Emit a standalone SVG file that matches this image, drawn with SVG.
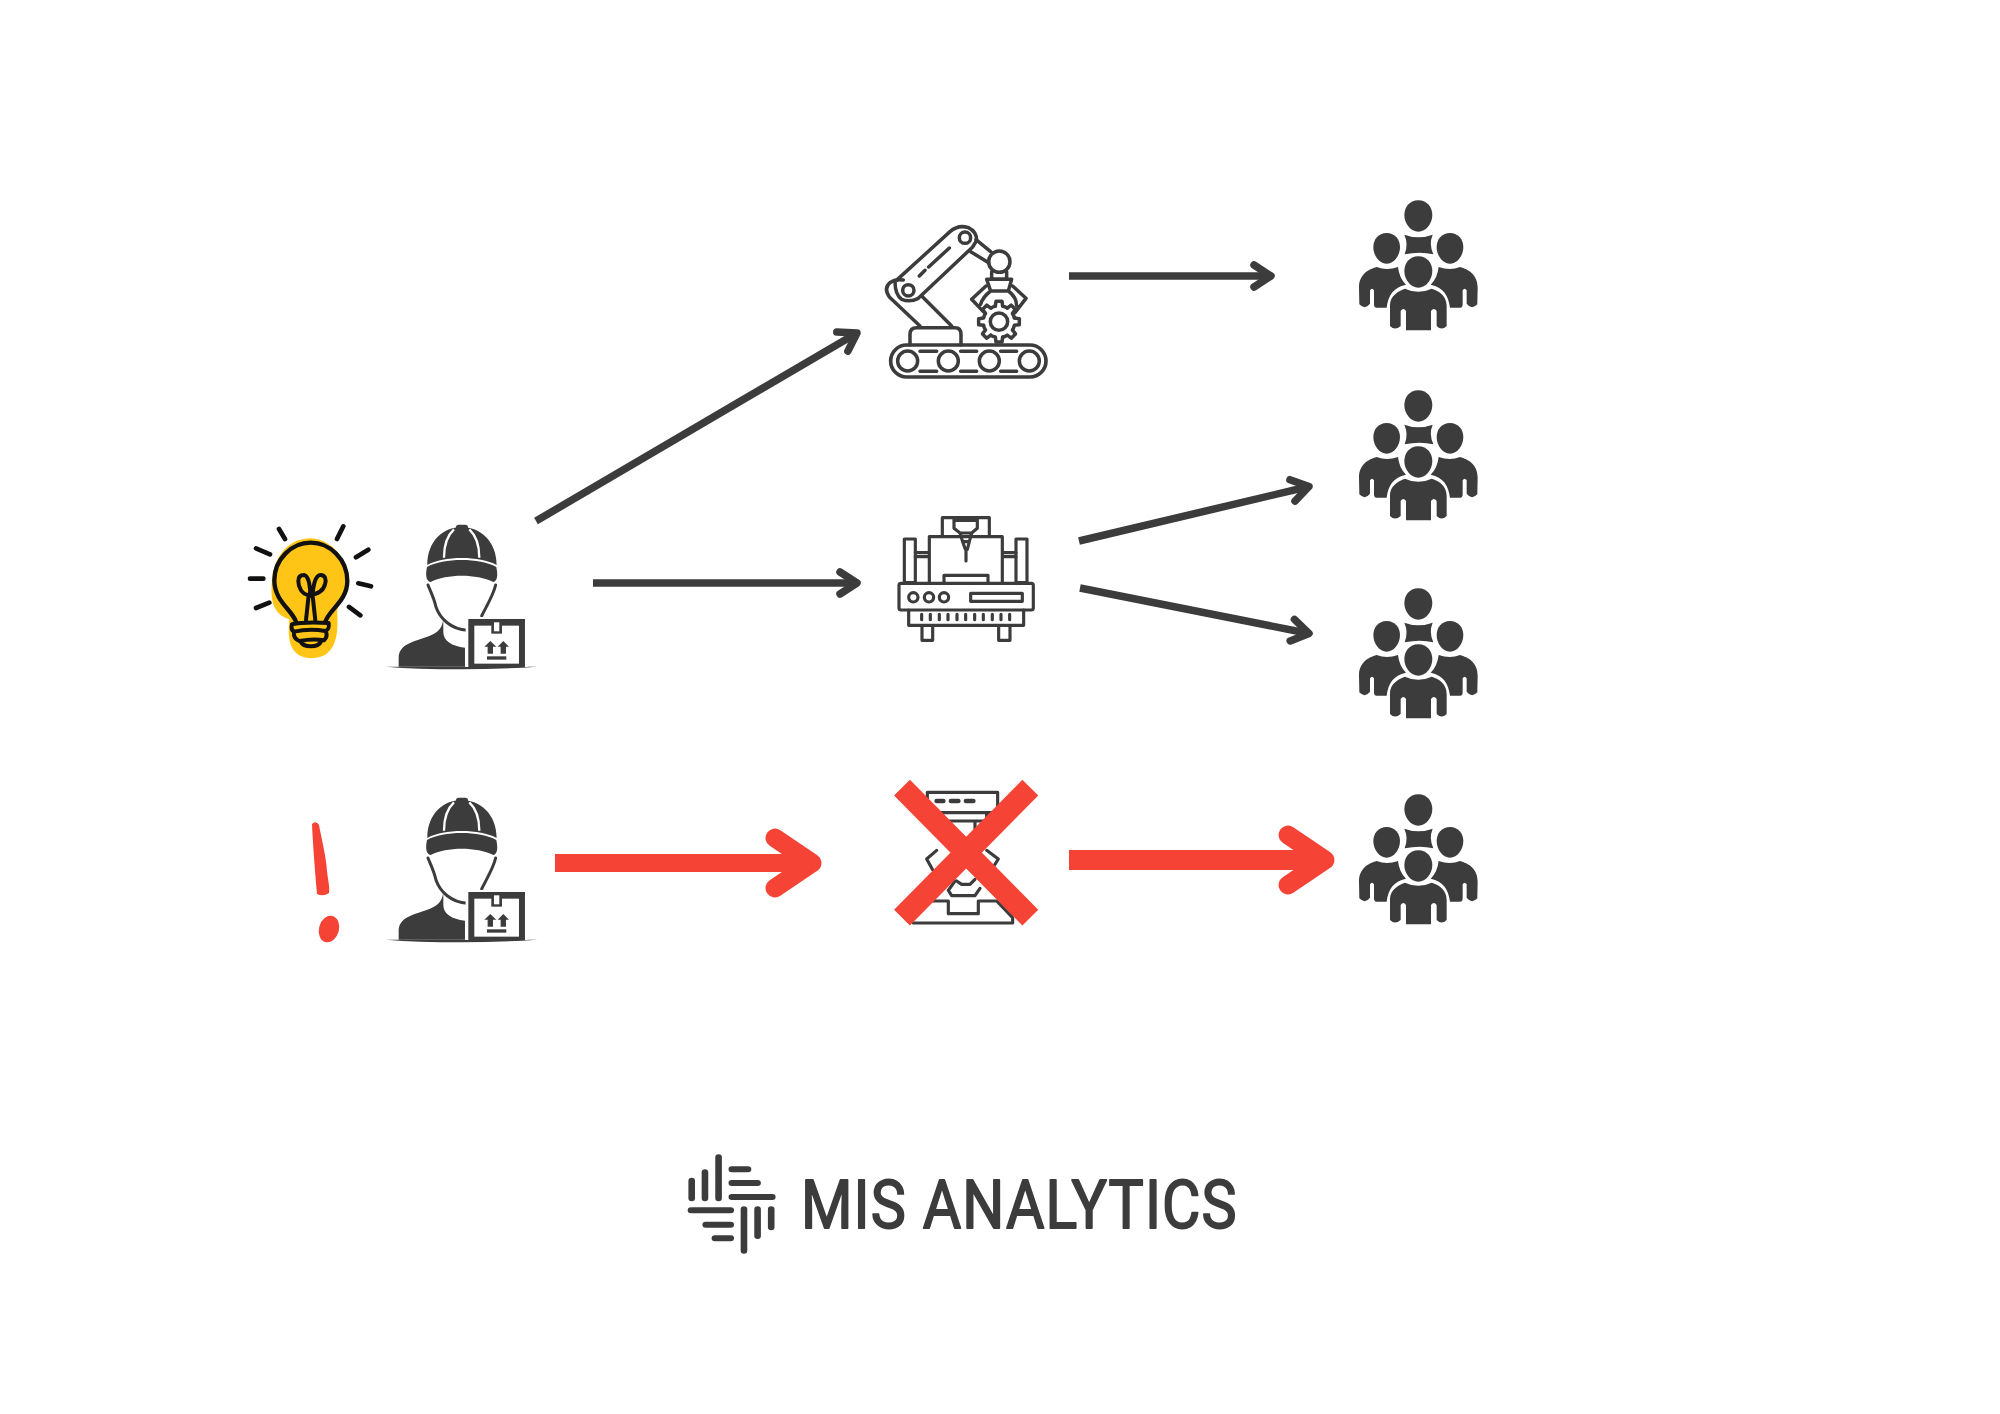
<svg xmlns="http://www.w3.org/2000/svg" xmlns:xlink="http://www.w3.org/1999/xlink" width="2000" height="1414" viewBox="0 0 2000 1414">
<style>
.ln{fill:none;stroke:#3c3c3c;stroke-linecap:round;stroke-linejoin:round}
.d{fill:#3c3c3c}
.w{fill:#fff}
.arrow{fill:none;stroke:#3c3c3c;stroke-width:7.500}
.red{fill:none;stroke:#f54436}
.k{fill:none;stroke:#111;stroke-linecap:round;stroke-linejoin:round}
.logo{font-family:"Roboto","Liberation Sans",sans-serif;font-size:67px;font-weight:400;fill:#3c3c3c;stroke:#3c3c3c;stroke-width:1.800;stroke-linejoin:round}
</style>
<defs>
<marker id="hd" markerUnits="userSpaceOnUse" viewBox="-22 -16 26 32" refX="0" refY="0" markerWidth="26" markerHeight="32" orient="auto" overflow="visible"><path d="M-17 -11L0 0L-17 11" fill="none" stroke="#3c3c3c" stroke-width="7.500" stroke-linecap="round" stroke-linejoin="round"/></marker>
<marker id="hr" markerUnits="userSpaceOnUse" viewBox="-50 -40 56 80" refX="0" refY="0" markerWidth="56" markerHeight="80" orient="auto" overflow="visible"><path d="M-37 -25L0 0L-37 25" fill="none" stroke="#f54436" stroke-width="19" stroke-linecap="round" stroke-linejoin="round"/></marker>
<g id="worker" transform="translate(230 500) scale(.3333)">
<path class="d" d="M592 192C592 120 640 78 695 78C750 78 800 120 800 192C750 164 640 164 592 192Z"/>
<rect class="d" x="678" y="71" width="36" height="16" rx="8"/>
<path d="M642 170C642 135 650 105 672 85M748 170C748 135 740 105 718 85" fill="none" stroke="#fff" stroke-width="7"/>
<path class="d" d="M591 198C640 170 750 170 799 198C804 222 803 240 790 243C740 218 650 218 602 243C588 240 586 222 591 198Z"/>
<path class="ln" d="M594 252C602 272 612 290 618 318C630 352 662 385 712 388" stroke-width="9"/>
<path class="ln" d="M797 252C790 282 775 305 755 345" stroke-width="9"/>
<path class="d" d="M506 497V470C508 432 540 425 590 408C618 398 636 388 640 355V392C640 420 665 435 705 440V497Z"/>
<path class="d" d="M468 497H922Q800 505 695 505Q560 505 468 497Z"/>
<rect class="w" x="707" y="348" width="186" height="150"/>
<rect class="d" x="715" y="354" width="170" height="144"/>
<rect class="w" x="733" y="374" width="134" height="114"/>
<rect class="d" x="784" y="362" width="32" height="36"/>
<rect class="w" x="792" y="364" width="16" height="27"/>
<path class="d" d="M763 437L781 420L799 437H789V458H773V437ZM803 437L820 420L837 437H828V458H812V437Z"/>
<rect class="d" x="771" y="466" width="58" height="10"/>
</g>
<g id="people" transform="translate(1340 190) scale(.3333)">
<path class="d" d="M235 28C262 28 277 50 277 72C277 98 258 122 235 122C212 122 193 98 193 72C193 50 208 28 235 28Z"/>
<path class="d" d="M193 131Q235 147 278 131Q266 160 280 190Q240 180 194 190Q206 160 193 131Z"/>
<path id="hl" class="d" d="M140 126C165 126 180 146 180 168C180 194 162 218 140 218C118 218 100 194 100 168C100 146 115 126 140 126Z"/>
<path id="bl" class="d" d="M57 290C57 250 85 235 110 228Q140 240 174 228Q178 262 198 281C160 290 145 312 140 350H112Q102 352 102 340V298Q96 288 90 298V338Q75 358 58 340Z"/>
<use xlink:href="#hl" href="#hl" transform="matrix(-1 0 0 1 470 0)"/>
<use xlink:href="#bl" href="#bl" transform="matrix(-1 0 0 1 470 0)"/>
<path class="d" d="M235 196C262 196 277 218 277 240C277 266 258 290 235 290C212 290 193 266 193 240C193 218 208 196 235 196Z"/>
<path class="d" d="M150 405V342C150 315 175 300 195 293Q235 312 275 293C298 300 320 315 320 345V405Q305 420 290 405V360Q282 348 273 360V418H198V360Q190 348 182 360V405Q165 420 150 405Z"/>
</g>
<path id="tooth" d="M-11 -46L-9 -61H9L11 -46A47 47 0 0 1 25 -41"/>
</defs>

<g transform="translate(0 1)">
<g id="connectors">
<path class="arrow" d="M536 520L857 332" marker-end="url(#hd)"/>
<path class="arrow" d="M593 582H857" marker-end="url(#hd)"/>
<path class="arrow" d="M1069 275H1271" marker-end="url(#hd)"/>
<path class="arrow" d="M1079 540L1309 485.500" marker-end="url(#hd)"/>
<path class="arrow" d="M1080 587L1309 632.500" marker-end="url(#hd)"/>
<path class="red" stroke-width="18" d="M555 862H812" marker-end="url(#hr)"/>
<path class="red" stroke-width="20" d="M1069 859H1325" marker-end="url(#hr)"/>
</g>

<g id="bulb" transform="translate(230 500) scale(.3333)">
<path fill="#ffc516" d="M125 250C130 150 190 110 245 112C300 115 355 170 355 240C350 290 320 300 322 340C325 400 320 470 245 472C180 470 172 420 178 355C130 340 122 300 125 250Z"/>
<path class="k" stroke-width="13" d="M198 362C185 325 133 300 133 238C133 175 185 125 242 125C300 125 352 175 352 240C352 300 298 325 286 362"/>
<path class="k" stroke-width="12" d="M228 358L236 282C215 280 205 258 205 240C205 225 215 222 222 222C238 225 242 265 240 285M256 358L248 285C248 260 255 222 272 222C285 222 290 235 285 250C280 270 265 280 238 282"/>
<path class="k" stroke-width="12" d="M186 370C220 362 260 364 296 366C298 380 296 386 286 390C250 384 220 386 192 392C184 388 184 378 186 370ZM192 394C190 410 198 416 208 420C240 414 260 414 282 418C290 410 292 402 288 392M212 422C220 440 265 442 274 420"/>
<path class="k" stroke-width="14" d="M147 84L165 114M340 76L321 114M78 142L120 160M415 146L378 169M60 233H100M385 247L423 256M78 321L118 305M357 318L391 343"/>
</g>
<use id="worker-1" xlink:href="#worker" href="#worker"/>

<g id="alert">
<path fill="#f54436" d="M312 823Q316 819 319 824C322 840 326 855 327 870C328 880 330 886 329 892Q323 896 317 893C315 870 313 845 312 823Z"/>
<ellipse fill="#f54436" cx="329" cy="928" rx="10" ry="13.500" transform="rotate(15 329 928)"/>
</g>
<use id="worker-2" xlink:href="#worker" href="#worker" transform="translate(0 273)"/>

<g id="robot" transform="translate(860 210) scale(.3333)">
<rect class="ln" stroke-width="11" x="92" y="402" width="466" height="96" rx="48"/>
<g class="ln" stroke-width="10.500"><circle cx="143" cy="450" r="30"/><circle cx="265" cy="450" r="30"/><circle cx="388" cy="450" r="30"/><circle cx="508" cy="450" r="30"/>
<path d="M180 421H230M302 421H350M422 421H470M180 481H230M302 481H350M422 481H470"/>
<path d="M150 402V370Q150 350 170 350H285Q303 350 303 370V402"/>
<path d="M180 345L88 258Q70 232 90 215Q105 203 130 207M275 345L185 255"/>
<path d="M105 212L270 62Q295 40 325 50Q350 62 350 88L338 108L175 262Q150 275 125 265Q105 250 105 212Z"/>
<circle cx="145" cy="238" r="17"/><circle cx="315" cy="80" r="17"/>
<path d="M178 195L195 178M206 168L268 111"/>
<path d="M348 86L392 122M332 122L386 155"/>
<circle cx="418" cy="152" r="32"/>
<path d="M395 182V205M440 182V205M395 205H440"/>
<path d="M380 205H455L445 240H392ZM378 225L335 265L370 302M392 240Q368 258 362 280M458 225L498 262L465 305M445 240Q470 258 470 285"/></g>
<g class="ln" stroke-width="10.500" transform="translate(417 332)"><use xlink:href="#tooth" href="#tooth"/><use xlink:href="#tooth" href="#tooth" transform="rotate(45)"/><use xlink:href="#tooth" href="#tooth" transform="rotate(90)"/><use xlink:href="#tooth" href="#tooth" transform="rotate(135)"/><use xlink:href="#tooth" href="#tooth" transform="rotate(180)"/><use xlink:href="#tooth" href="#tooth" transform="rotate(225)"/><use xlink:href="#tooth" href="#tooth" transform="rotate(270)"/><use xlink:href="#tooth" href="#tooth" transform="rotate(315)"/><circle r="26"/></g>
</g>

<g id="machine" transform="translate(880 500) scale(.3333)">
<g class="ln" stroke-width="9.500">
<path d="M187 105V50H328V105M222 50V82L240 96H275L292 82V50M222 58H292M240 96L248 122H268L275 96M248 122L256 145H262L268 122M258 145V180"/>
<path d="M148 245V107H367V245M192 245V223H324V245"/>
<rect x="73" y="114" width="33" height="131"/><rect x="408" y="114" width="33" height="131"/>
<path d="M106 155H146M106 167H146M368 155H408M368 167H408"/>
<rect x="57" y="247" width="403" height="80" rx="6"/>
<circle cx="100" cy="289" r="14"/><circle cx="147" cy="289" r="14"/><circle cx="192" cy="289" r="14"/>
<rect x="272" y="277" width="155" height="24"/>
<path d="M86 327V373H431V327"/>
<path d="M126 375V418H158V375M356 375V418H390V375"/>
<path d="M125 340V356M151 340V356M178 340V356M204 340V356M231 340V356M257 340V356M284 340V356M310 340V356M337 340V356M363 340V356M389 340V356"/>
</g>
</g>

<g id="crossed-machine" transform="translate(880 770) scale(.3333)">
<g class="ln" stroke-width="9.500">
<path d="M142 125V64H353V125H142ZM165 150H320M320 125V175M285 150V185"/>
<path d="M170 90H190M213 90H235M258 90H280" stroke-width="14"/>
<path d="M170 238L140 264L158 296M320 238L355 264L335 296M225 330L205 358L215 374H285L300 352M230 330L245 340H270L285 325"/>
<path d="M155 390H205V428H295V390H350L398 440V456H100"/>
</g>
<path d="M66 50L451 440M451 50L66 440" fill="none" stroke="#f54436" stroke-width="67"/>
</g>

<use id="people-1" xlink:href="#people" href="#people"/>
<use id="people-2" xlink:href="#people" href="#people" transform="translate(0 190)"/>
<use id="people-3" xlink:href="#people" href="#people" transform="translate(0 388)"/>
<use id="people-4" xlink:href="#people" href="#people" transform="translate(0 594)"/>

<g id="logo">
<g class="ln" transform="translate(670 1139) scale(.3680 .3333)" style="stroke-width:18">
<path d="M59 122V175M95 97V175M132 52V175M168 88H212M168 129H238M168 171H278M57 211H165M97 254H165M122 295H165M201 208V332M238 208V288M275 208V262"/>
</g>
<text class="logo" transform="translate(801 1227) scale(.88 1)" x="0" y="0" textLength="495" lengthAdjust="spacing">MIS ANALYTICS</text>
</g>
</g>
</svg>
